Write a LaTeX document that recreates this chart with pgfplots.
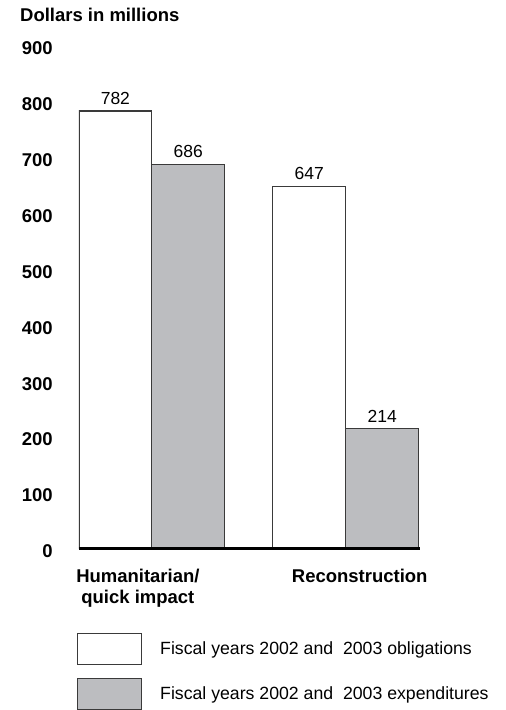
\documentclass[border=0pt]{standalone}
\usepackage{fontspec}
\setmainfont{Liberation Sans}
\usepackage{pgfplots}
\pgfplotsset{compat=1.18}
\definecolor{barfill}{HTML}{BCBDC0}
\definecolor{baredge}{HTML}{3A3A3A}
\begin{document}
\begin{tikzpicture}
\begin{axis}[
    scale only axis,
    width=341pt, height=504pt,
    ybar=0pt, bar width=73pt,
    xmin=-0.376, xmax=1.381,
    ymin=0, ymax=900,
    ytick={0,100,...,900},
    xtick={-0.072,1.072},
    xticklabels={Humanitarian/\\quick impact, Reconstruction},
    major tick length=0pt,
    axis x line*=bottom,
    axis y line*=left,
    x axis line style={line width=3.5pt, black},
    y axis line style={draw=none},
    axis on top,
    font=\fontsize{18.5}{22}\selectfont,
    /pgf/number format/assume math mode=true,
    yticklabel style={font=\fontsize{18.5}{22}\selectfont\bfseries, inner sep=0pt, xshift=-26pt, yshift=-3pt},
    xticklabel style={font=\fontsize{18.5}{21.5}\selectfont\bfseries, align=center, inner sep=0pt, yshift=-20pt},
    nodes near coords,
    every node near coord/.append style={font=\fontsize{17.5}{21}\selectfont, inner sep=0pt, yshift=6pt},
    legend style={at={(-0.006,-0.1667)}, anchor=north west, draw=none, fill=none,
        inner sep=0pt, row sep=13pt, column sep=0pt,
        font=\fontsize{17.7}{21}\selectfont,
        nodes={inner sep=0pt, anchor=west}},
    legend cell align=left,
    legend image code/.code={\draw[#1] (0pt,-15.5pt) rectangle (64pt,15.5pt); \path (82pt,0pt);},
]
\addplot[draw=baredge, line width=1.2pt, fill=white] coordinates {(0,782) (1,647)};
\addplot[draw=baredge, line width=1.2pt, fill=barfill] coordinates {(0,686) (1,214)};
\legend{Fiscal years 2002 and\ \ 2003 obligations, Fiscal years 2002 and\ \ 2003 expenditures}
\end{axis}
\node[anchor=west, font=\fontsize{18.5}{22}\selectfont\bfseries, inner sep=0pt] at (-59pt,534pt) {Dollars in millions};
\path (-79pt,-161pt) rectangle (427pt,549pt);
\end{tikzpicture}
\end{document}
